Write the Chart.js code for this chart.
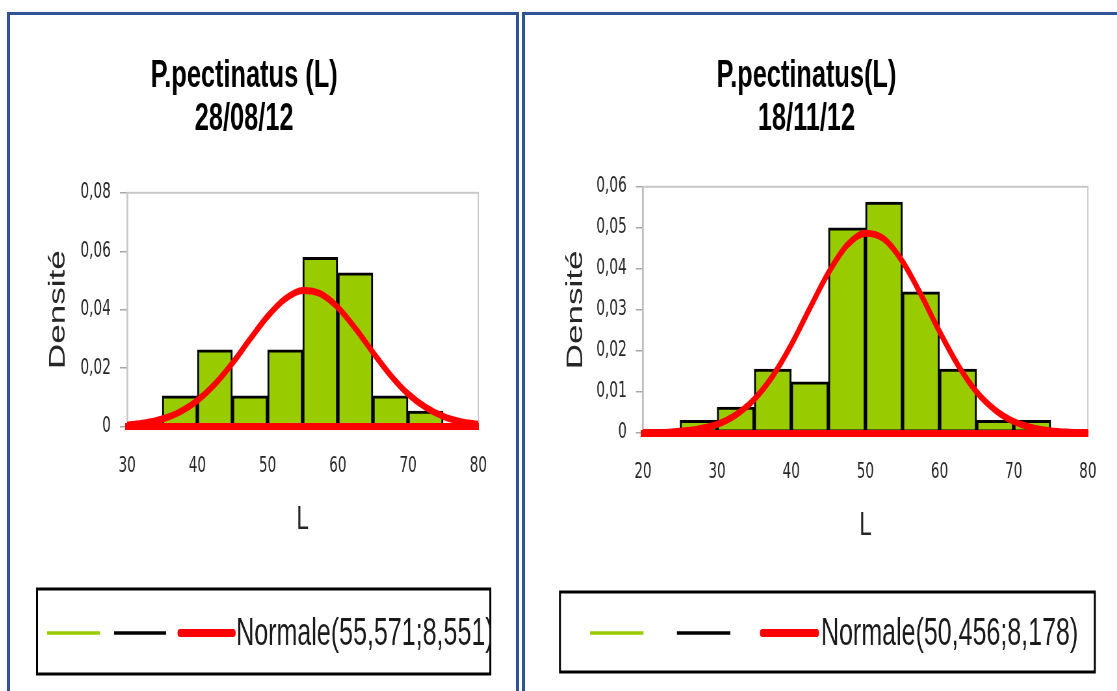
<!DOCTYPE html>
<html>
<head>
<meta charset="utf-8">
<script src="https://cdn.jsdelivr.net/npm/chart.js@4.4.1/dist/chart.umd.min.js"></script>
<style>
  html, body { margin:0; padding:0; background:#ffffff; width:1117px; height:691px; overflow:hidden; }
  .panel { position:absolute; border:3px solid #2F5496; box-sizing:border-box; }
  #p1 { left:7px; top:12px; width:512px; height:720px; }
  #p2 { left:522px; top:12px; width:640px; height:720px; }
  canvas { position:absolute; }
  #c1 { left:10px; top:15px; }
  #c2 { left:525px; top:15px; }
</style>
</head>
<body>
<div class="panel" id="p1"></div>
<div class="panel" id="p2"></div>
<canvas id="c1"></canvas>
<canvas id="c2"></canvas>
<script>
// ---------- data ----------
const leftTitle = ['P.pectinatus (L)', '28/08/12'];
const rightTitle = ['P.pectinatus(L)', '18/11/12'];

const leftBinEdges = [35, 40, 45, 50, 55, 60, 65, 70, 75];
const leftDensity = [0.0105, 0.0263, 0.0105, 0.0263, 0.0579, 0.0526, 0.0105, 0.0053];
const leftCurveX = [30, 32.5, 35, 37.5, 40, 42.5, 45, 47.5, 50, 52.5, 55, 57.5, 60, 62.5, 65, 67.5, 70, 72.5, 75, 77.5, 80];
const leftCurveY = [0.0005, 0.0012, 0.0026, 0.0050, 0.0089, 0.0145, 0.0217, 0.0299, 0.0377, 0.0437, 0.0466, 0.0455, 0.0408, 0.0336, 0.0254, 0.0176, 0.0112, 0.0066, 0.0035, 0.0017, 0.0008];
const leftLegendLabel = 'Normale(55,571;8,551)';
const leftXTicks = [30, 40, 50, 60, 70, 80];
const leftYTickLabels = ['0', '0,02', '0,04', '0,06', '0,08'];

const rightBinEdges = [25, 30, 35, 40, 45, 50, 55, 60, 65, 70, 75];
const rightDensity = [0.0031, 0.0063, 0.0156, 0.0125, 0.0500, 0.0563, 0.0344, 0.0156, 0.0031, 0.0031];
const rightCurveX = [20, 22.5, 25, 27.5, 30, 32.5, 35, 37.5, 40, 42.5, 45, 47.5, 50, 52.5, 55, 57.5, 60, 62.5, 65, 67.5, 70, 72.5, 75, 77.5, 80];
const rightCurveY = [0.0001, 0.0001, 0.0004, 0.0010, 0.0021, 0.0044, 0.0082, 0.0139, 0.0215, 0.0304, 0.0390, 0.0457, 0.0487, 0.0473, 0.0418, 0.0337, 0.0247, 0.0165, 0.0100, 0.0056, 0.0028, 0.0013, 0.0005, 0.0002, 0.0001];
const rightLegendLabel = 'Normale(50,456;8,178)';
const rightXTicks = [20, 30, 40, 50, 60, 70, 80];
const rightYTickLabels = ['0', '0,01', '0,02', '0,03', '0,04', '0,05', '0,06'];

const xAxisTitle = 'L';
const yAxisTitle = 'Densité';

// ---------- style ----------
const SQUEEZE = 0.65;
const GREEN = '#99CC00';
const RED = '#FF0000';
const REG = "'Liberation Sans', Arial, sans-serif";
const TICKF = "'DejaVu Sans', sans-serif";

const framePlugin = {
  id: 'frame',
  beforeDatasetsDraw(chart) {
    const a = chart.chartArea, ctx = chart.ctx;
    ctx.save();
    ctx.strokeStyle = '#C8C8C8';
    ctx.lineWidth = 2;
    ctx.strokeRect(a.left, a.top, a.right - a.left, a.bottom - a.top);
    ctx.restore();
  }
};

const boxLegendPlugin = {
  id: 'boxLegend',
  afterDraw(chart, args, o) {
    const ctx = chart.ctx;
    ctx.save();
    ctx.strokeStyle = '#000';
    ctx.lineWidth = 3;
    ctx.strokeRect(o.box[0], o.box[1], o.box[2] - o.box[0], o.box[3] - o.box[1]);
    ctx.beginPath();
    ctx.rect(o.box[0], o.box[1], o.box[2] - o.box[0], o.box[3] - o.box[1]);
    ctx.clip();
    const y = o.y;
    const items = [
      {c: GREEN, w: 3.5, x: o.green, cap: 'butt'},
      {c: '#000', w: 3.5, x: o.black, cap: 'butt'},
      {c: RED, w: 8, x: o.red, cap: 'round'}
    ];
    items.forEach(it => {
      ctx.beginPath();
      ctx.strokeStyle = it.c; ctx.lineWidth = it.w; ctx.lineCap = it.cap;
      ctx.moveTo(it.x[0], y); ctx.lineTo(it.x[1], y); ctx.stroke();
    });
    ctx.fillStyle = '#1a1a1a';
    ctx.font = '38.5px ' + REG;
    ctx.textBaseline = 'middle';
    ctx.textAlign = 'left';
    ctx.fillText(chart.data.datasets[0].label, o.textX, y + 1);
    ctx.restore();
  }
};

function makeChart(id, W, cfg) {
  const cv = document.getElementById(id);
  cv.width = W; cv.height = 676;
  cv.style.width = (W * SQUEEZE) + 'px';
  cv.style.height = '676px';
  const bars = cfg.density.map((d, i) => ({x: (cfg.edges[i] + cfg.edges[i + 1]) / 2, y: d}));
  const curve = cfg.curveX.map((x, i) => ({x: x, y: cfg.curveY[i]}));
  return new Chart(cv, {
    data: {
      datasets: [
        {type: 'line', label: cfg.legend, data: curve, borderColor: RED, borderWidth: 7,
         pointRadius: 0, cubicInterpolationMode: 'monotone', order: 0, borderCapStyle: 'round'},
        {type: 'bar', label: '', data: bars, backgroundColor: GREEN, borderColor: '#000',
         borderWidth: 3, borderSkipped: false, barPercentage: 1, categoryPercentage: 1, order: 1}
      ]
    },
    options: {
      responsive: false, animation: false, devicePixelRatio: 1,
      layout: {padding: cfg.pad},
      plugins: {
        legend: {display: false},
        tooltip: {enabled: false},
        title: {display: true, text: cfg.title, color: '#000',
          font: {family: REG, size: 39, weight: 'bold', lineHeight: 1.1},
          padding: cfg.titlePad},
        boxLegend: cfg.lg
      },
      scales: {
        x: {type: 'linear', min: cfg.xTicks[0], max: cfg.xTicks[cfg.xTicks.length - 1], offset: false,
          afterBuildTicks: s => { s.ticks = cfg.xTicks.map(v => ({value: v})); },
          afterFit: s => { s.height = 113.4; },
          grid: {display: false, drawTicks: false, offset: false},
          border: {display: true, color: RED, width: 7, z: 1},
          ticks: {padding: 27, color: '#262626', font: {family: TICKF, size: 21}, maxRotation: 0, autoSkip: false},
          title: {display: true, text: xAxisTitle, color: '#262626', font: {family: REG, size: 34}, padding: {top: 0, bottom: 0}}
        },
        y: {min: 0, max: cfg.yMax,
          afterBuildTicks: s => { s.ticks = cfg.yLabels.map((t, i) => ({value: i * cfg.yStep})); },
          afterFit: s => { s.width = cfg.yW; },
          grid: {display: true, drawOnChartArea: false, drawTicks: true, tickLength: 11, color: '#A6A6A6', lineWidth: 1.5},
          border: {display: true, color: '#A6A6A6', width: 2.5},
          ticks: {padding: 14, color: '#262626', font: {family: TICKF, size: 21},
            callback: (v, i) => cfg.yLabels[i]},
          title: {display: true, text: yAxisTitle, color: '#262626', font: {family: REG, size: 35}, padding: {top: cfg.yTitlePad, bottom: 0}}
        }
      }
    },
    plugins: [framePlugin, boxLegendPlugin]
  });
}

makeChart('c1', 778, {
  edges: leftBinEdges, density: leftDensity, curveX: leftCurveX, curveY: leftCurveY,
  legend: leftLegendLabel, title: leftTitle, xTicks: leftXTicks, yLabels: leftYTickLabels,
  yMax: 0.08, yStep: 0.02, yW: 180, yTitlePad: 53,
  pad: {left: 0, right: 58, top: 0, bottom: 151},
  titlePad: {top: 39.5, bottom: 52.5},
  lg: {box: [41.5, 574, 738.5, 659], y: 618, green: [56.9, 138.5], black: [160, 240], red: [261.5, 343], textX: 347.7}
});

makeChart('c2', 911, {
  edges: rightBinEdges, density: rightDensity, curveX: rightCurveX, curveY: rightCurveY,
  legend: rightLegendLabel, title: rightTitle, xTicks: rightXTicks, yLabels: rightYTickLabels,
  yMax: 0.06, yStep: 0.01, yW: 181.5, yTitlePad: 57.6,
  pad: {left: 0, right: 44.8, top: 0, bottom: 144.6},
  titlePad: {top: 39.5, bottom: 46.5},
  lg: {box: [53.8, 577, 876.9, 657], y: 618, green: [100, 182.3], black: [233.8, 316], red: [365.4, 448.5], textX: 455.4}
});
</script>
</body>
</html>
